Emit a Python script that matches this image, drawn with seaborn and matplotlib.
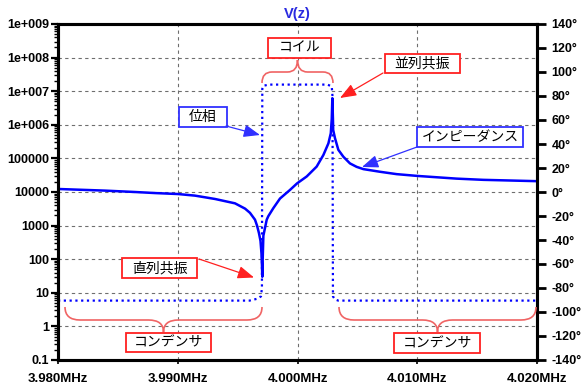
import numpy as np
import pandas as pd
import matplotlib
matplotlib.use('Agg')
import matplotlib.pyplot as plt
import seaborn as sns
from matplotlib.patches import Rectangle, PathPatch, FancyArrowPatch
from matplotlib.path import Path
from matplotlib.ticker import FixedLocator, FixedFormatter, LogLocator, NullFormatter

# ---------------- data ----------------
freq_imp = [3.98000, 3.98392, 3.98643, 3.98810, 3.99002, 3.99144, 3.99311, 3.99478,
            3.99562, 3.99603, 3.99645, 3.99662, 3.99678, 3.99691, 3.99699, 3.99703,
            3.99706, 3.99709, 3.99715, 3.99743, 3.99756, 3.99798, 3.99854, 3.99937,
            3.99996, 4.00077, 4.00160, 4.00216, 4.00258, 4.00278, 4.00286, 4.00291,
            4.00296, 4.00298, 4.00313, 4.00341, 4.00383, 4.00438, 4.00494, 4.00550,
            4.00689, 4.00828, 4.01006, 4.01329, 4.01552, 4.02000]
impedance = [12300, 11000, 10000, 9300, 8700, 7800, 6200, 4600,
             3200, 2400, 1500, 1000, 600, 350, 150, 70,
             30, 90, 500, 1500, 1900, 3300, 6400, 11500,
             18000, 29000, 57000, 126000, 280000, 560000, 1500000, 6200000,
             1500000, 700000, 400000, 180000, 112000, 71000, 56000, 48000,
             40000, 34000, 30000, 25000, 23000, 21000]

freq_ph = [3.98000, 3.99600, 3.99662, 3.99695, 3.99703, 3.99706, 3.99714, 3.99760,
           4.00000, 4.00250, 4.00286, 4.00292, 4.00296, 4.00313, 4.00340, 4.02000]
phase = [-90.5, -90.5, -89, -87, -80, 86, 88.5, 89.5,
         89.5, 89.5, 88, 80, -87, -89.5, -90.5, -90.5]

x_ticks = [3.98, 3.99, 4.00, 4.01, 4.02]
x_labels = ['3.980MHz', '3.990MHz', '4.000MHz', '4.010MHz', '4.020MHz']
left_ticks = [1e9, 1e8, 1e7, 1e6, 1e5, 1e4, 1e3, 1e2, 1e1, 1e0, 1e-1]
left_labels = ['1e+009', '1e+008', '1e+007', '1e+006', '100000', '10000',
               '1000', '100', '10', '1', '0.1']
right_ticks = list(range(-140, 141, 20))
right_labels = [f'{v}°' for v in right_ticks]
title = 'V(z)'

# ---------------- figure ----------------
plt.rcParams['font.family'] = ['Liberation Sans', 'DejaVu Sans']
JP = ['Noto Sans CJK JP', 'DejaVu Sans']

W, H = 587, 390
fig = plt.figure(figsize=(W / 100, H / 100), dpi=100)
fig.patch.set_facecolor('white')
L, R, T, B = 58, 537, 24, 360
ax = fig.add_axes([L / W, 1 - B / H, (R - L) / W, (B - T) / H])

BLUE = '#0000ff'
df_imp = pd.DataFrame({'f': freq_imp, 'z': impedance})
df_ph = pd.DataFrame({'f': freq_ph, 'p': phase})

sns.lineplot(data=df_imp, x='f', y='z', ax=ax, color=BLUE, lw=1.8,
             estimator=None, sort=False)
ax.set_yscale('log')
ax.set_xlim(3.98, 4.02)
ax.set_ylim(0.1, 1e9)
ax.set_xlabel('')
ax.set_ylabel('')

ax.yaxis.set_major_locator(FixedLocator(left_ticks))
ax.yaxis.set_major_formatter(FixedFormatter(left_labels))
ax.yaxis.set_minor_locator(LogLocator(base=10, subs=np.arange(2, 10), numticks=200))
ax.yaxis.set_minor_formatter(NullFormatter())
ax.xaxis.set_major_locator(FixedLocator(x_ticks))
ax.xaxis.set_major_formatter(FixedFormatter(x_labels))

ax.grid(True, which='major', color='#6e6e6e', linestyle=(0, (3, 3)), lw=0.8)
ax.tick_params(axis='y', which='major', direction='out', length=5, width=1.6,
               labelsize=9, pad=1.5, left=True)
ax.tick_params(axis='y', which='minor', direction='out', length=3, width=1.0, left=True)
ax.tick_params(axis='x', which='major', direction='out', length=3, width=1.2,
               labelsize=9.5, pad=6, bottom=True)
for lab in ax.get_xticklabels() + ax.get_yticklabels():
    lab.set_fontweight('bold')

ax2 = ax.twinx()
sns.lineplot(data=df_ph, x='f', y='p', ax=ax2, color=BLUE, lw=1.6,
             estimator=None, sort=False)
for ln in ax2.get_lines():
    ln.set_linestyle((0, (1.0, 1.6)))
    ln.set_dash_capstyle('butt')
ax2.set_ylim(-140, 140)
ax2.set_xlim(3.98, 4.02)
ax2.set_ylabel('')
ax2.yaxis.set_major_locator(FixedLocator(right_ticks))
ax2.yaxis.set_major_formatter(FixedFormatter(right_labels))
ax2.tick_params(axis='y', direction='out', length=6.5, width=2, labelsize=9, pad=4)
for lab in ax2.get_yticklabels():
    lab.set_fontweight('bold')

for a in (ax, ax2):
    for s in a.spines.values():
        s.set_linewidth(2.2)
        s.set_color('black')

fig.text(297 / W, 1 - 14 / H, title, color='#2a2ae0', fontweight='bold',
         ha='center', va='center', fontsize=10.5)


# ---------------- annotations (pixel layout helpers) ----------------
def P(x, y):
    return (x / W, 1 - y / H)


def box(x0, y0, x1, y1, text, ec):
    fig.add_artist(Rectangle(P(x0, y1), (x1 - x0) / W, (y1 - y0) / H,
                             transform=fig.transFigure, fc='white', ec=ec,
                             lw=1.3, zorder=10))
    cx, cy = P((x0 + x1) / 2, (y0 + y1) / 2)
    fig.text(cx, cy, text, ha='center', va='center', fontsize=10,
             family=JP, color='black', zorder=11)


def arrow(x0, y0, x1, y1, c):
    fig.add_artist(FancyArrowPatch(P(x0, y0), P(x1, y1), transform=fig.transFigure,
                                   arrowstyle='-|>,head_length=0.9,head_width=0.35',
                                   mutation_scale=11, color=c, lw=0.9,
                                   shrinkA=0, shrinkB=0, zorder=12))


def brace(x0, x1, y_end, y_mid, y_tip, r, c='#f06464'):
    xc = (x0 + x1) / 2
    pts = [(x0, y_end), (x0, y_mid), (x0 + r, y_mid), (xc - r, y_mid),
           (xc, y_mid), (xc, y_tip), (xc, y_mid), (xc + r, y_mid),
           (x1 - r, y_mid), (x1, y_mid), (x1, y_end)]
    codes = [Path.MOVETO, Path.CURVE3, Path.CURVE3, Path.LINETO,
             Path.CURVE3, Path.CURVE3, Path.CURVE3, Path.CURVE3,
             Path.LINETO, Path.CURVE3, Path.CURVE3]
    path = Path([P(*p) for p in pts], codes)
    fig.add_artist(PathPatch(path, transform=fig.transFigure, fc='none', ec=c,
                             lw=1.2, zorder=9))


RED = '#ff2020'
BL = '#3030ff'

brace(262, 333, 83, 72, 60, 10)
box(268, 38, 331, 58, 'コイル', RED)

box(385, 54, 460, 73, '並列共振', RED)
arrow(383, 73, 340, 98, RED)

box(179, 107, 227, 127, '位相', BL)
arrow(226, 126, 260, 135, BL)

box(417, 127, 523, 147, 'インピーダンス', BL)
arrow(417, 147, 362, 167, BL)

box(122, 258, 197, 278, '直列共振', RED)
arrow(199, 259, 254, 277.5, RED)

brace(65, 262, 307, 320, 332, 15)
box(126, 333, 211, 352, 'コンデンサ', RED)

brace(339, 536, 307, 320, 332, 15)
box(394, 333, 480, 353, 'コンデンサ', RED)

fig.savefig('out.png', dpi=100, facecolor='white')
